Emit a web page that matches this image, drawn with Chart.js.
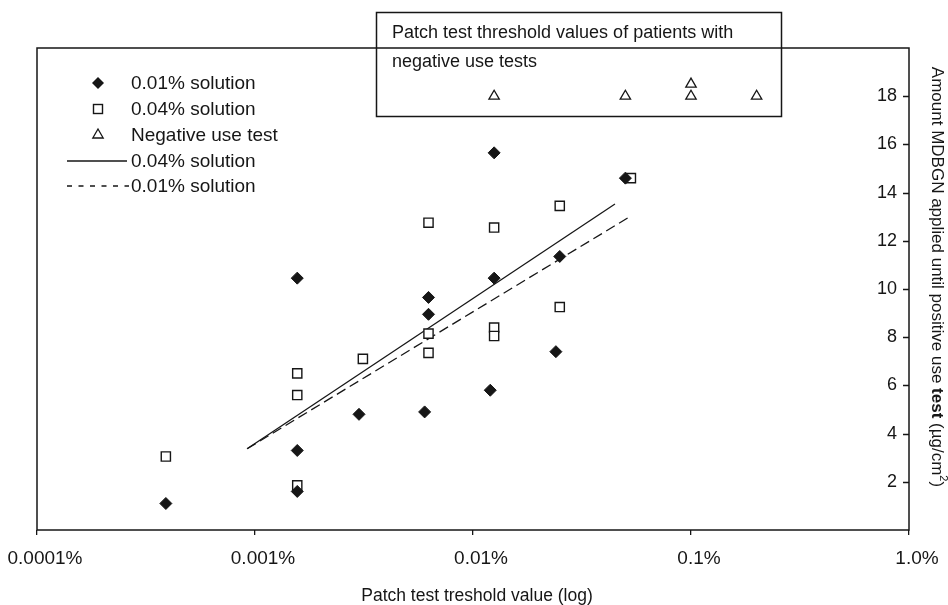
<!DOCTYPE html>
<html>
<head>
<meta charset="utf-8">
<script src="https://cdn.jsdelivr.net/npm/chart.js@4/dist/chart.umd.min.js"></script>
<style>
  html, body { margin: 0; padding: 0; background: #fff; }
  canvas { display: block; }
</style>
</head>
<body>
<canvas id="chart" width="948" height="605"></canvas>
<script>
// Patch test threshold (% MDBGN, log scale) against amount applied until a positive use test

// 0.01% solution (filled diamonds)
const sol001X = [0.00039, 0.0015625, 0.0015625, 0.0015625, 0.003, 0.006, 0.00625, 0.00625, 0.012, 0.0125, 0.0125, 0.024, 0.025, 0.05];
const sol001Y = [1.1, 10.45, 3.3, 1.6, 4.8, 4.9, 9.65, 8.95, 5.8, 15.65, 10.45, 7.4, 11.35, 14.6];

// 0.04% solution (open squares)
const sol004X = [0.00039, 0.0015625, 0.0015625, 0.0015625, 0.003125, 0.00625, 0.00625, 0.00625, 0.0125, 0.0125, 0.0125, 0.025, 0.025, 0.053];
const sol004Y = [3.05, 6.5, 5.6, 1.85, 7.1, 12.75, 8.15, 7.35, 12.55, 8.4, 8.05, 13.45, 9.25, 14.6];

// patients with negative use tests (open triangles)
const negX = [0.0125, 0.05, 0.1, 0.1, 0.2];
const negY = [18, 18, 18, 18.5, 18];

// regression lines (end points)
const fit004X = [0.00092, 0.0448];
const fit004Y = [3.37, 13.53];
const fit001X = [0.00092, 0.0515];
const fit001Y = [3.37, 12.96];

// axes
const xTickValues = [0.0001, 0.001, 0.01, 0.1, 1];
const xTickLabels = ['0.0001%', '0.001%', '0.01%', '0.1%', '1.0%'];
const yTickValues = [2, 4, 6, 8, 10, 12, 14, 16, 18];

const xTitle = 'Patch test treshold value (log)';
const yTitleParts = ['Amount MDBGN applied until positive use ', 'test', ' (\u00B5g/cm', '2', ')'];
const boxLines = ['Patch test threshold values of patients with', 'negative use tests'];
const legendLabels = ['0.01% solution', '0.04% solution', 'Negative use test', '0.04% solution', '0.01% solution'];

const INK = '#161616';
const FONT = "'Liberation Sans', Arial, Helvetica, sans-serif";

const toPoints = (xs, ys) => xs.map((v, i) => ({ x: v, y: ys[i] }));

function diamond(ctx, x, y, r) {
  ctx.beginPath();
  ctx.moveTo(x, y - r); ctx.lineTo(x + r, y); ctx.lineTo(x, y + r); ctx.lineTo(x - r, y);
  ctx.closePath();
  ctx.fillStyle = INK; ctx.fill();
}
function square(ctx, x, y, s) {
  ctx.fillStyle = '#fff';
  ctx.fillRect(x - s / 2, y - s / 2, s, s);
  ctx.lineWidth = 1.4; ctx.strokeStyle = INK;
  ctx.strokeRect(x - s / 2, y - s / 2, s, s);
}
function triangle(ctx, x, y, r) {
  ctx.beginPath();
  for (let k = 0; k < 3; k++) {
    const a = k * 2 * Math.PI / 3;
    const px = x + Math.sin(a) * r, py = y - Math.cos(a) * r;
    if (k === 0) ctx.moveTo(px, py); else ctx.lineTo(px, py);
  }
  ctx.closePath();
  ctx.lineWidth = 1.3; ctx.strokeStyle = INK; ctx.stroke();
}

const decor = {
  id: 'decor',
  afterDraw(chart) {
    const { ctx, chartArea: a, scales: { y } } = chart;
    ctx.save();

    // plot frame
    ctx.strokeStyle = INK;
    ctx.lineWidth = 1.5;
    ctx.strokeRect(a.left, a.top, a.right - a.left, a.bottom - a.top);

    // inward tick marks of the right-hand value axis
    ctx.lineWidth = 1.3;
    ctx.beginPath();
    yTickValues.forEach(v => {
      const py = Math.round(y.getPixelForValue(v)) + 0.5;
      ctx.moveTo(a.right, py);
      ctx.lineTo(a.right - 6, py);
    });
    ctx.stroke();

    // annotation box for negative use tests
    ctx.lineWidth = 1.5;
    ctx.strokeRect(376.5, 12.5, 405, 104);
    ctx.fillStyle = INK;
    ctx.font = '18px ' + FONT;
    ctx.textAlign = 'left';
    ctx.textBaseline = 'middle';
    ctx.fillText(boxLines[0], 392, 33);
    ctx.fillText(boxLines[1], 392, 62);

    // legend
    const rows = [83, 109, 135, 161, 186];
    const mx = 98, tx = 131;
    diamond(ctx, mx, rows[0], 6);
    square(ctx, mx, rows[1], 9);
    triangle(ctx, mx, rows[2], 6);
    ctx.strokeStyle = INK;
    ctx.lineWidth = 1.3;
    ctx.beginPath(); ctx.moveTo(67, rows[3]); ctx.lineTo(127, rows[3]); ctx.stroke();
    ctx.setLineDash([5, 6.5]);
    ctx.beginPath(); ctx.moveTo(67, rows[4]); ctx.lineTo(129, rows[4]); ctx.stroke();
    ctx.setLineDash([]);
    ctx.fillStyle = INK;
    ctx.font = '19px ' + FONT;
    ctx.textAlign = 'left';
    ctx.textBaseline = 'middle';
    legendLabels.forEach((t, i) => ctx.fillText(t, tx, rows[i] + 1));

    // x-axis title
    ctx.font = '17.5px ' + FONT;
    ctx.textAlign = 'center';
    ctx.fillText(xTitle, 477, 596);

    // y-axis title, rotated, reading downward
    ctx.translate(937, 277);
    ctx.rotate(Math.PI / 2);
    const fonts = ['17px ' + FONT, 'bold 17px ' + FONT, '17px ' + FONT, '11px ' + FONT, '17px ' + FONT];
    const widths = yTitleParts.map((p, i) => { ctx.font = fonts[i]; return ctx.measureText(p).width; });
    let cx = -widths.reduce((s, w) => s + w, 0) / 2;
    ctx.textAlign = 'left';
    yTitleParts.forEach((p, i) => {
      ctx.font = fonts[i];
      ctx.fillText(p, cx, i === 3 ? -6 : 0);
      cx += widths[i];
    });

    ctx.restore();
  }
};

new Chart(document.getElementById('chart'), {
  type: 'scatter',
  data: {
    datasets: [
      {
        label: '0.01% solution',
        data: toPoints(sol001X, sol001Y),
        pointStyle: 'rectRot',
        pointRadius: 6,
        backgroundColor: INK,
        borderColor: INK,
        borderWidth: 1
      },
      {
        label: '0.04% solution',
        data: toPoints(sol004X, sol004Y),
        pointStyle: 'rect',
        pointRadius: 6.5,
        backgroundColor: '#fff',
        borderColor: INK,
        borderWidth: 1.4
      },
      {
        label: 'Negative use test',
        data: toPoints(negX, negY),
        pointStyle: 'triangle',
        pointRadius: 6,
        backgroundColor: 'rgba(255,255,255,0)',
        borderColor: INK,
        borderWidth: 1.3
      },
      {
        label: '0.04% solution fit',
        data: toPoints(fit004X, fit004Y),
        showLine: true,
        pointRadius: 0,
        borderColor: INK,
        borderWidth: 1.3
      },
      {
        label: '0.01% solution fit',
        data: toPoints(fit001X, fit001Y),
        showLine: true,
        pointRadius: 0,
        borderColor: INK,
        borderWidth: 1.3,
        borderDash: [10, 5]
      }
    ]
  },
  options: {
    responsive: false,
    animation: false,
    events: [],
    layout: { padding: { left: 37, top: 48, right: 0, bottom: 0 } },
    plugins: { legend: { display: false }, tooltip: { enabled: false } },
    scales: {
      x: {
        type: 'logarithmic',
        position: 'bottom',
        min: 0.0001,
        max: 1,
        afterBuildTicks: s => { s.ticks = xTickValues.map(v => ({ value: v, major: true })); },
        afterFit: s => { s.height = 75; s.paddingLeft = 0; s.paddingRight = 0; },
        ticks: {
          callback: (v, i) => xTickLabels[i],
          font: { family: FONT, size: 19 },
          color: INK,
          padding: 12,
          labelOffset: 8,
          maxRotation: 0,
          autoSkip: false
        },
        grid: { drawOnChartArea: false, drawTicks: true, tickLength: 5, color: INK, lineWidth: 1.3 },
        border: { display: false }
      },
      y: {
        type: 'linear',
        position: 'right',
        min: 0,
        max: 20,
        afterBuildTicks: s => { s.ticks = yTickValues.map(v => ({ value: v })); },
        afterFit: s => { s.width = 39; s.paddingTop = 0; s.paddingBottom = 0; },
        // labels sit inside the plot, to the left of the axis line
        ticks: { mirror: true, padding: -12, font: { family: FONT, size: 18 }, color: INK },
        grid: { display: false, drawTicks: false },
        border: { display: false }
      }
    }
  },
  plugins: [decor]
});
</script>
</body>
</html>
